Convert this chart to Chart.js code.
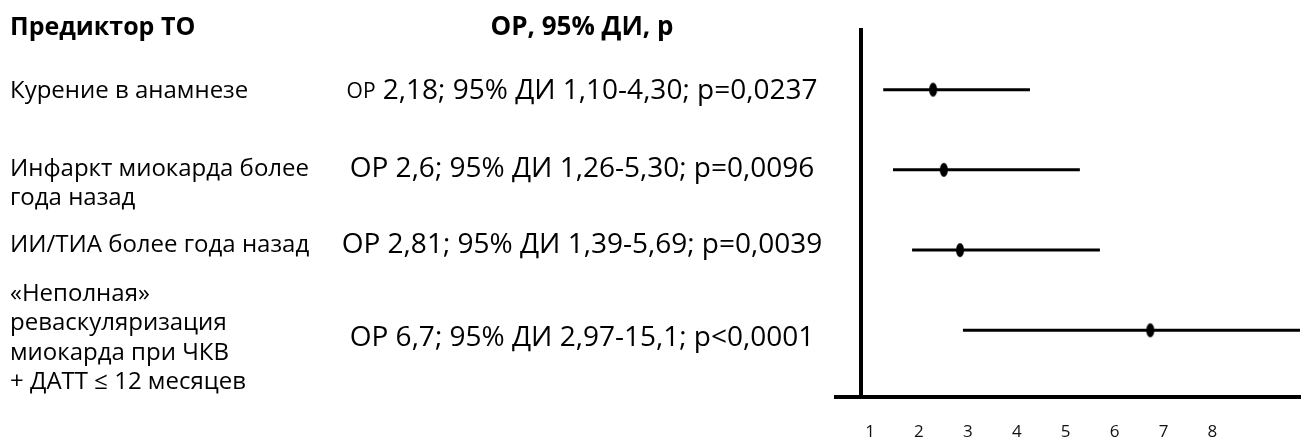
<!DOCTYPE html>
<html>
<head>
<meta charset="utf-8">
<script src="https://cdn.jsdelivr.net/npm/chart.js@4"></script>
<style>
  body { margin: 0; background: #fff; }
  canvas { display: block; }
</style>
</head>
<body>
<canvas id="chart" width="1309" height="439"></canvas>
<script>
// header texts
const headLeft = "Предиктор ТО";
const headMid = "ОР, 95% ДИ, р";

// predictor rows (left column), one array of lines per row
const predictors = [
    ["Курение в анамнезе"],
    ["Инфаркт миокарда более", "года назад"],
    ["ИИ/ТИА более года назад"],
    ["«Неполная»", "реваскуляризация", "миокарда при ЧКВ", "+ ДАТТ ≤ 12 месяцев"]
];

// OR text per row (prefix + rest)
const orPrefix = ["ОР", "ОР", "ОР", "ОР"];
const orText = [
    " 2,18; 95% ДИ 1,10-4,30; p=0,0237",
    " 2,6; 95% ДИ 1,26-5,30; p=0,0096",
    " 2,81; 95% ДИ 1,39-5,69; p=0,0039",
    " 6,7; 95% ДИ 2,97-15,1; p<0,0001"
];

// values as drawn on the plot
const estimate = [2.29, 2.51, 2.84, 6.73];
const ciLow = [1.27, 1.47, 1.86, 2.90];
const ciHigh = [4.27, 5.29, 5.70, 15.1];

const tickValues = [1, 2, 3, 4, 5, 6, 7, 8];
const refLine = 0.82;

const FONT = "'Open Sans', sans-serif";

// vertical ellipse marker
function makeMarker() {
    let c = document.createElement('canvas');
    c.width = 10; c.height = 16;
    let g = c.getContext('2d');
    g.fillStyle = '#000';
    g.beginPath();
    g.ellipse(5, 8, 4, 7, 0, 0, Math.PI * 2);
    g.fill();
    return c;
}
const marker = makeMarker();

let datasets = [];
for (let i = 0; i < estimate.length; i++) {
    datasets.push({
        type: 'line',
        data: [{x: ciLow[i], y: i}, {x: ciHigh[i], y: i}],
        borderColor: '#000',
        borderWidth: 3,
        pointRadius: 0,
        fill: false
    });
}
datasets.push({
    type: 'scatter',
    data: estimate.map((v, i) => ({x: v, y: i})),
    pointStyle: marker,
    pointRadius: 6,
    backgroundColor: '#000'
});

// text rows: baseline centre of each row's text block
const textY = [91, 169, 245, 338];

const textPlugin = {
    id: 'forestText',
    afterDraw(chart) {
        const ctx = chart.ctx;
        ctx.save();
        ctx.fillStyle = '#000';
        ctx.textBaseline = 'middle';

        ctx.font = "bold 25px " + FONT;
        ctx.textAlign = 'left';
        ctx.fillText(headLeft, 10, 28);
        ctx.font = "bold 26px " + FONT;
        ctx.textAlign = 'center';
        ctx.fillText(headMid, 582, 28);

        const lh = 29.5;
        for (let i = 0; i < predictors.length; i++) {
            const py = textY[i];
            const lines = predictors[i];
            let y0 = lines.length === 2 ? py : py - (lines.length - 1) * lh / 2;
            ctx.font = "24px " + FONT;
            ctx.textAlign = 'left';
            lines.forEach((t, k) => ctx.fillText(t, 10, y0 + k * lh));

            // middle column, centred
            const preFont = (i === 0 ? "21px " : "28px ") + FONT;
            const restFont = "28px " + FONT;
            ctx.font = preFont;
            const w1 = ctx.measureText(orPrefix[i]).width;
            ctx.font = restFont;
            const w2 = ctx.measureText(orText[i]).width;
            let x = 582 - (w1 + w2) / 2;
            ctx.textAlign = 'left';
            ctx.font = preFont;
            ctx.fillText(orPrefix[i], x, py + (i === 0 ? 1 : 0));
            ctx.font = restFont;
            ctx.fillText(orText[i], x + w1, py);
        }
        ctx.restore();
    }
};

new Chart(document.getElementById('chart').getContext('2d'), {
    data: { datasets: datasets },
    options: {
        responsive: false,
        animation: false,
        layout: { padding: { left: 836, right: 9, top: 30, bottom: 0 } },
        plugins: { legend: { display: false }, tooltip: { enabled: false } },
        scales: {
            x: {
                type: 'linear',
                min: 0.305,
                max: 9.79,
                afterBuildTicks: (s) => { s.ticks = tickValues.map(v => ({value: v})); },
                afterFit: (s) => { s.height = 42; },
                grid: { display: false, drawTicks: false },
                border: { display: true, color: '#000', width: 4 },
                ticks: { color: '#111', font: { family: FONT, size: 17 }, padding: 25 }
            },
            y: {
                type: 'linear',
                reverse: true,
                min: -0.744,
                max: 3.832,
                position: { x: refLine },
                grid: { display: false, drawTicks: false },
                border: { display: true, color: '#000', width: 4 },
                ticks: { display: false }
            }
        }
    },
    plugins: [textPlugin]
});
</script>
</body>
</html>
